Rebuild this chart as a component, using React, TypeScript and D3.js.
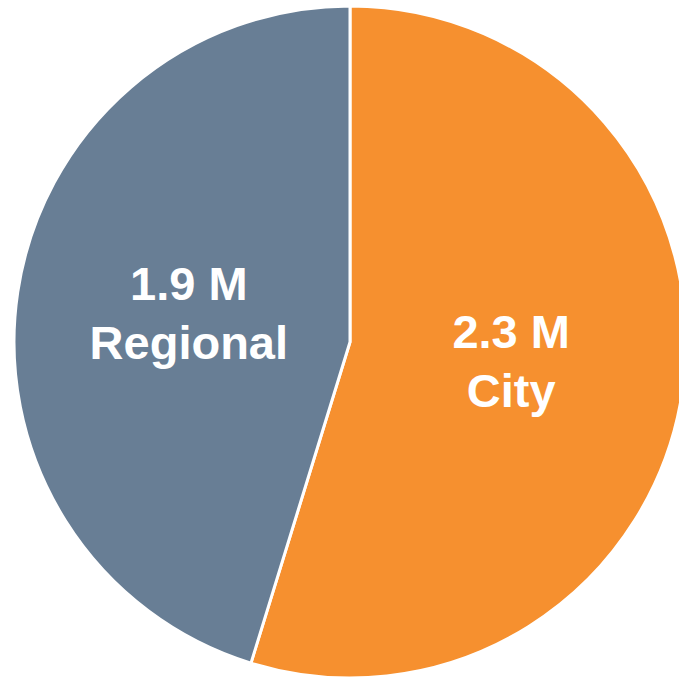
import React from "react";
import * as d3 from "d3";

const categories = ["City", "Regional"];
const values = [2.3, 1.9];
const valueLabels = ["2.3 M", "1.9 M"];
const colors = ["#F6902F", "#687E95"];

export default function App() {
  const W = 679;
  const H = 679;
  const cx = 350;
  const cy = 342;
  const r = 336;
  const pie = d3
    .pie<number>()
    .sort(null)
    .startAngle(0)
    .endAngle(2 * Math.PI)
    .value((d) => d);
  const arcs = pie(values);
  const arc = d3.arc<d3.PieArcDatum<number>>().innerRadius(0).outerRadius(r);
  const labelArc = d3.arc<d3.PieArcDatum<number>>().innerRadius(163 * 2 - r).outerRadius(r);
  const lr = 163;
  return (
    <svg
      width={W}
      height={H}
      style={{ position: "absolute", left: 0, top: 0, background: "#fff" }}
    >
      <g transform={`translate(${cx},${cy})`}>
        {arcs.map((a, i) => (
          <path key={categories[i]} d={arc(a) || ""} fill={colors[i]} stroke="#fff" strokeWidth={3} strokeLinejoin="miter" />
        ))}
        {arcs.map((a, i) => {
          const mid = (a.startAngle + a.endAngle) / 2;
          const x = lr * Math.sin(mid);
          const y = -lr * Math.cos(mid);
          return (
            <text
              key={"l" + categories[i]}
              textAnchor="middle"
              fill="#fff"
              fontFamily="'Liberation Sans', Arial, sans-serif"
              fontWeight="bold"
              fontSize={47}
            >
              <tspan x={x} y={y - 18}>{valueLabels[i]}</tspan>
              <tspan x={x} y={y + 41}>{categories[i]}</tspan>
            </text>
          );
        })}
      </g>
    </svg>
  );
}
